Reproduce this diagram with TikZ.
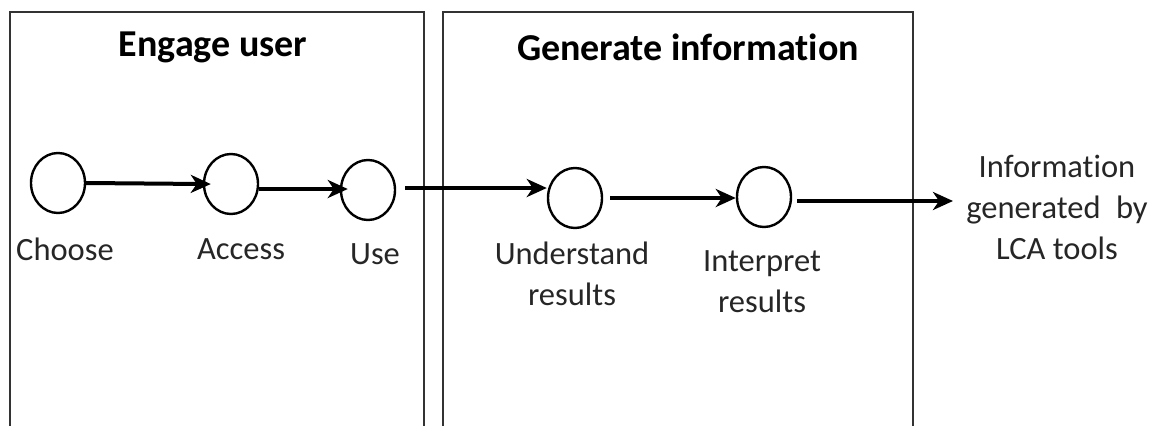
\documentclass[tikz,border=0pt]{standalone}
\usepackage{fontspec}
\setmainfont{Carlito}[Ligatures={NoCommon,NoContextual,NoRare},RawFeature={-liga;-clig;-dlig}]
\usetikzlibrary{arrows.meta,shapes.geometric}
% keep "t" and "i" apart
\newcommand{\tisep}{\kern0pt\relax}
\begin{document}
\begin{tikzpicture}[x=1pt,y=-1pt,
  frame/.style={line width=1.6pt,draw=black!80},
  stage/.style={ellipse,draw,line width=2.4pt,minimum width=54pt,minimum height=60pt,inner sep=0pt},
  flow/.style={line width=4pt,-{Stealth[length=20pt,width=18pt,inset=6pt]}},
  lbl/.style={font=\fontsize{32.5}{41}\selectfont,align=center,inner sep=0pt,text=black!85},
  title/.style={font=\bfseries\fontsize{38}{44}\selectfont,inner sep=0pt}]
\useasboundingbox (0,0) rectangle (1163,426);

% open-bottomed frames
\draw[frame] (10,426) -- (10,12) -- (424,12) -- (424,426);
\draw[frame] (443,426) -- (443,12) -- (913,12) -- (913,426);
\node[title] (t1) at (213,47) {Engage user};
\node[title] (t2) at (688,47) {Generate informat\tisep ion};

% stages
\node[stage] (choose) at (58,183) {};
\node[stage] (access) at (231,184) {};
\node[stage] (use)    at (368,190) {};
\node[stage] (und)    at (575,198) {};
\node[stage] (interp) at (764,197) {};
\coordinate (out) at (953,201);

% labels
\node[lbl] (lchoose) at (65,249) {Choose};
\node[lbl] (laccess) at (241,249) {Access};
\node[lbl] (luse)    at (375,254) {Use};
\node[lbl] (lund)    at (572,274) {Understand\\results};
\node[lbl] (linterp) at (762,282) {Interpret\\results};
\node[lbl] (lout)    at (1057,207) {Informat\tisep ion\\generated\hspace{0.25em} by\\LCA tools};

% connectors
\draw[flow,shorten >=-8pt] (choose.east) -- (access.west);
\draw[flow,shorten >=-8pt] (access.east |- 0,189) -- (use.west |- 0,189);
\draw[flow,shorten <=9pt] (use.east |- 0,188) -- (und.west |- 0,188);
\draw[flow,shorten <=7pt] (und.east |- 0,198) -- (interp.west |- 0,198);
\draw[flow,shorten <=5pt] (interp.east |- out) -- (out);
\end{tikzpicture}
\end{document}
